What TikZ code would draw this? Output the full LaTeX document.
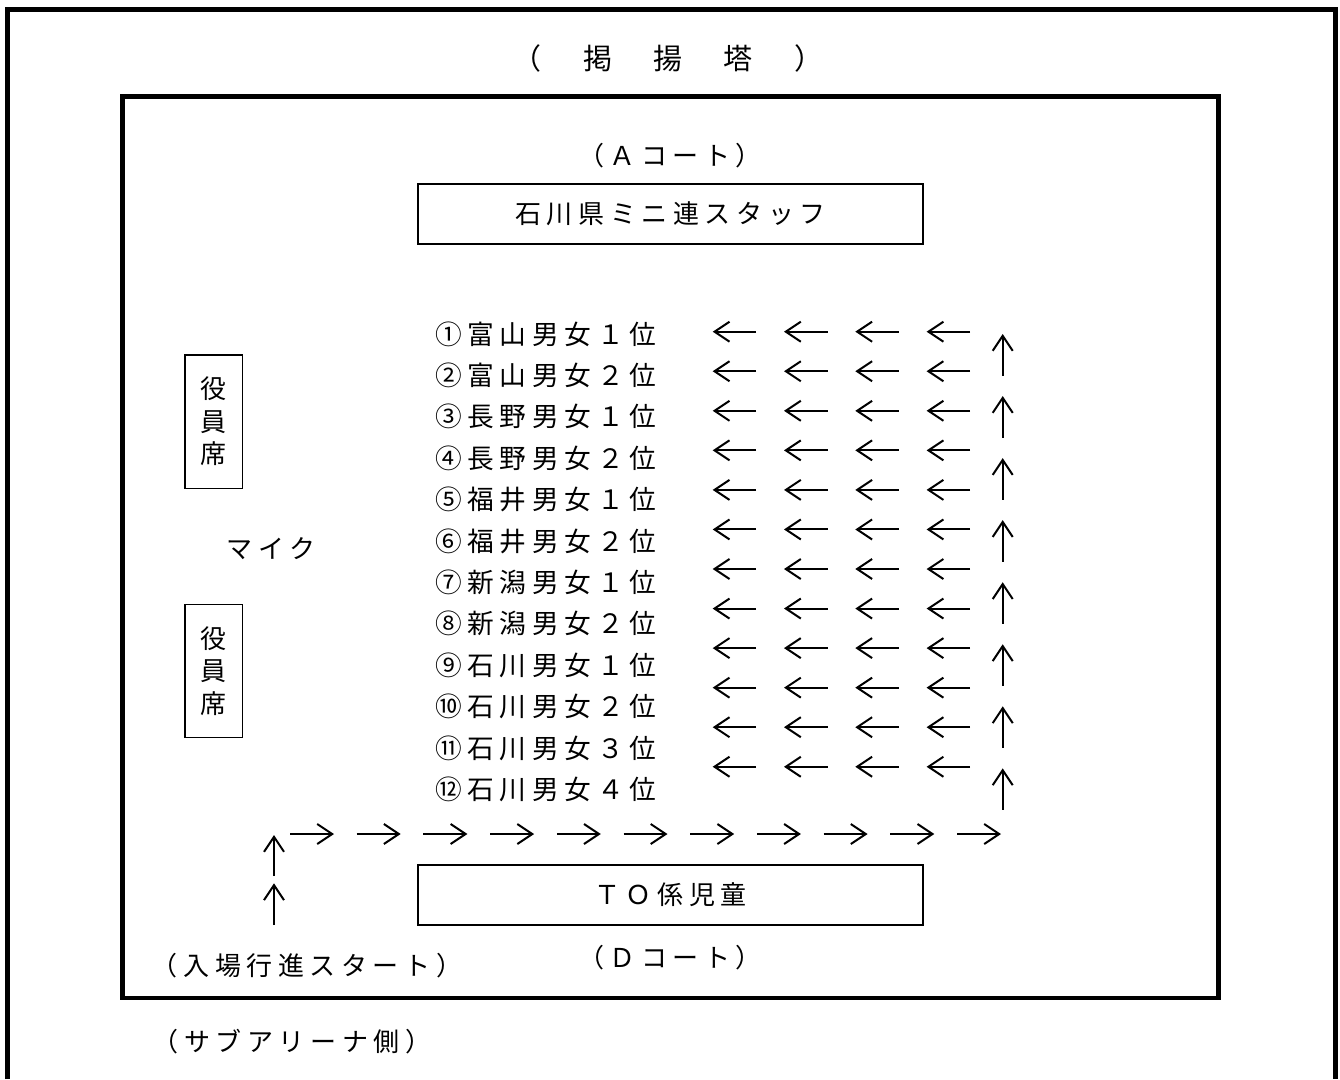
\documentclass[tikz,border=0pt]{standalone}
\usepackage{fontspec}
\newfontfamily\jpfont[LetterSpace=21.5]{Noto Sans CJK JP}
\usetikzlibrary{arrows.meta}

\begin{document}
\begin{tikzpicture}[x=1pt,y=-1pt,
    lbl/.style={font={\jpfont\fontsize{26}{32.5}\selectfont}, inner sep=0pt},
    team/.style={font={\jpfont\fontsize{26.7}{32}\selectfont}, inner sep=0pt},
    title/.style={font={\jpfont\fontsize{29}{34}\selectfont}, inner sep=0pt},
    box/.style={draw, line width=1.3pt, lbl, minimum width=505pt, minimum height=60pt},
    seat/.style={draw, line width=1.3pt, lbl, align=center, minimum width=57.7pt, minimum height=133.3pt},
    frame/.style={line width=4.6pt},
    walk/.style={line width=2pt, -{Straight Barb[length=15pt,width=20pt]}}]
      \useasboundingbox (0,0) rectangle (1340,1079);
      % hall and court
      \draw[frame] (7.5,1079) -- (7.5,9.7) -- (1335.3,9.7) -- (1335.3,1079);
      \draw[frame] (122.5,96.3) rectangle (1218.7,998);
      \node (tower) at (668,58) [title] {（　掲　揚　塔　）};
      \node (acourt) at (670,156) [lbl] {（Ａコート）};
      \node (staff) at (670.5,214) [box] {石川県ミニ連スタッフ};
      \node (to) at (670.5,895) [box] {ＴＯ係児童};
      \node (dcourt) at (670,958) [lbl] {（Ｄコート）};
      \node (start) at (307,966) [lbl] {（入場行進スタート）};
      \node (sub) at (292,1042) [lbl] {（サブアリーナ側）};
      \node (seat1) at (213.8,421.6) [seat] {役\\員\\席};
      \node (seat2) at (213.8,670.8) [seat] {役\\員\\席};
      \node (mic) at (271,549) [lbl] {マイク};
      % teams
      \foreach \t [count=\i from 0] in {①富山男女１位,②富山男女２位,③長野男女１位,④長野男女２位,
          ⑤福井男女１位,⑥福井男女２位,⑦新潟男女１位,⑧新潟男女２位,
          ⑨石川男女１位,⑩石川男女２位,⑪石川男女３位,⑫石川男女４位} {
        \node (team\i) at (545.8,334+41.4*\i) [team] {\t};
      }
      % marching route
      \foreach \i in {0,1} {
        \coordinate (s\i) at (274,876+49*\i);
        \coordinate (s\i') at (274,835+48.3*\i);
        \draw[walk] (s\i) to (s\i');
      }
      \foreach \j in {0,...,10} {
        \coordinate (b\j) at (290+66.7*\j,834);
        \coordinate (b\j') at (334+66.7*\j,834);
        \draw[walk] (b\j) to (b\j');
      }
      \foreach \j in {0,...,7} {
        \coordinate (u\j) at (1002.7,375.5+62.05*\j);
        \coordinate (u\j') at (1002.7,334+62.05*\j);
        \draw[walk] (u\j) to (u\j');
      }
      \foreach \i in {0,...,11} {
        \foreach \j in {0,...,3} {
          \coordinate (l\i-\j) at (756.2+71.3*\j,331.7+39.55*\i);
          \coordinate (l\i-\j') at (712.7+71.3*\j,331.7+39.55*\i);
          \draw[walk] (l\i-\j) to (l\i-\j');
        }
      }
\end{tikzpicture}
\end{document}
